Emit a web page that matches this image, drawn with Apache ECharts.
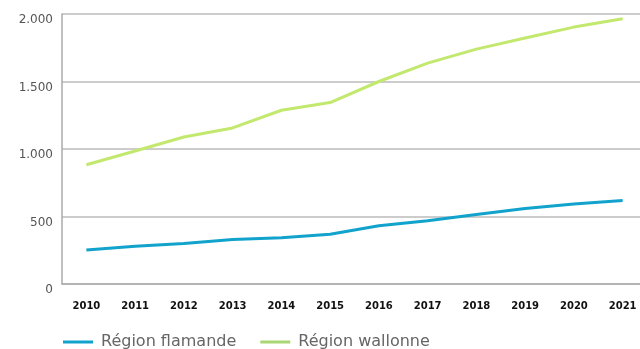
<!DOCTYPE html>
<html><head><meta charset="utf-8">
<script src="https://cdn.jsdelivr.net/npm/echarts@6/dist/echarts.min.js"></script>
<style>html,body{margin:0;padding:0;background:#fff}#c{width:640px;height:349px}</style>
</head><body><div id="c"></div>
<script>
const years = ['2010','2011','2012','2013','2014','2015','2016','2017','2018','2019','2020','2021'];
const flamande = [252, 280, 300, 330, 342, 369, 431, 468, 515, 560, 592, 619];
const wallonne = [883, 985, 1089, 1156, 1287, 1344, 1500, 1636, 1740, 1822, 1903, 1965];
const yTicks = [0, 500, 1000, 1500, 2000];
const seriesNames = ['Région flamande', 'Région wallonne'];

const chart = echarts.init(document.getElementById('c'), null, {renderer:'canvas'});
const fmt = v => v >= 1000 ? String(v).replace(/(\d)(\d{3})$/, '$1.$2') : String(v);
chart.setOption({
  animation:false,
  grid:{left:62, top:14, width:585, height:270, outerBoundsMode:'none', containLabel:false},
  legend:{
    left:63, top:334, padding:0, itemWidth:30, itemHeight:3, itemGap:24,
    icon:'rect',
    textStyle:{fontFamily:'DejaVu Sans', fontSize:16, color:'#666', padding:[0,0,0,3]},
    data:seriesNames
  },
  xAxis:{
    type:'category', data:years, boundaryGap:true,
    axisLine:{lineStyle:{color:'#aaa', width:1.5}},
    axisTick:{show:false},
    axisLabel:{fontFamily:'DejaVu Sans', fontWeight:'bold', fontSize:10, color:'#111', margin:17}
  },
  yAxis:{
    type:'value', min:yTicks[0], max:yTicks[yTicks.length-1], interval:500,
    axisLine:{show:true, lineStyle:{color:'#aaa', width:1.5}},
    axisTick:{show:false},
    splitLine:{lineStyle:{color:'#bbb', width:1.5}},
    axisLabel:{fontFamily:'DejaVu Sans', fontSize:12, color:'#555', margin:9, verticalAlign:'top', formatter:fmt}
  },
  series:[
    {name:seriesNames[0], type:'line', data:flamande, showSymbol:false, symbol:'none',
     lineStyle:{color:'#11a3cc', width:3}, itemStyle:{color:'#11a3cc'}},
    {name:seriesNames[1], type:'line', data:wallonne, showSymbol:false, symbol:'none',
     lineStyle:{color:'#c3e86e', width:3}, itemStyle:{color:'#a8d672'}}
  ]
});
</script></body></html>
